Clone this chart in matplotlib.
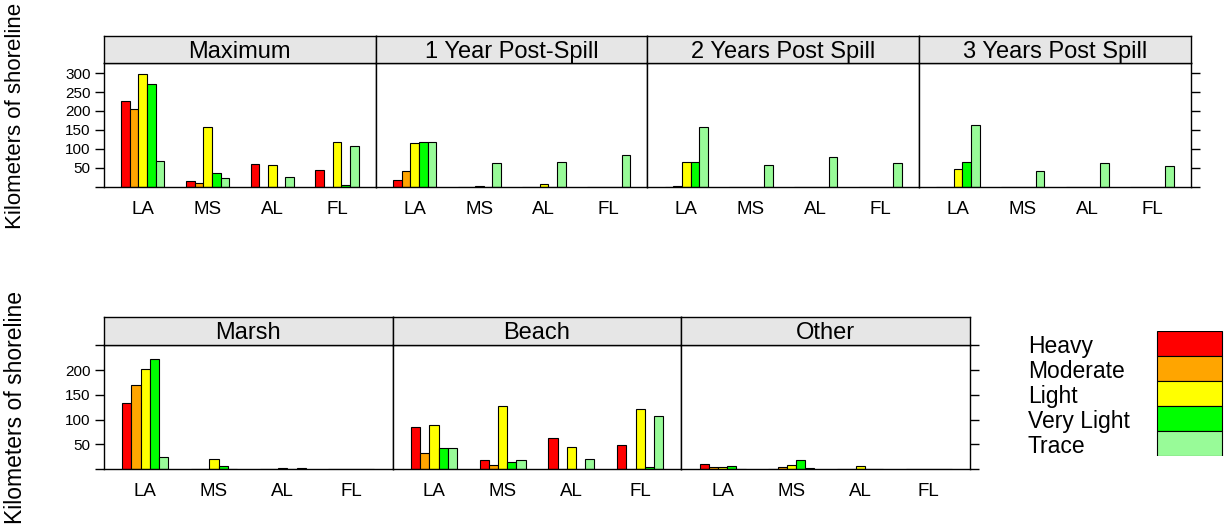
import matplotlib.pyplot as plt
import numpy as np

plt.rcParams['font.family'] = ['Liberation Sans', 'DejaVu Sans']

levels = ["Heavy", "Moderate", "Light", "Very Light", "Trace"]
colors = ["#FF0000", "#FFA500", "#FFFF00", "#00FF00", "#98FB98"]
states = ["LA", "MS", "AL", "FL"]

# km of shoreline per state (rows) and oiling level (columns)
maximum = [[227, 204, 298, 271, 69], [14, 11, 158, 37, 22], [61, 0.5, 57, 0.5, 26], [45, 0.5, 119, 3.5, 108]]
year1 = [[19, 42, 116, 119, 119], [0.5, 0.5, 3, 0.5, 62], [0.5, 0.5, 7, 0.5, 65], [0.5, 0.5, 0.5, 0.5, 85]]
year2 = [[0.5, 1.5, 66, 65, 159], [0.5, 0.5, 0.5, 0.5, 58], [0.5, 0.5, 0.5, 0.5, 78], [0.5, 0.5, 0.5, 0.5, 62]]
year3 = [[0.5, 0.5, 46, 65, 162], [0.5, 0.5, 0.5, 0.5, 42], [0.5, 0.5, 0.5, 0.5, 62], [0.5, 0.5, 0.5, 0.5, 54]]
marsh = [[134, 170, 202, 223, 24], [0.5, 0.5, 20, 7, 0.5], [0.5, 0.5, 2, 0.5, 2], [0.5, 0.5, 0.5, 0.5, 0.5]]
beach = [[86, 32, 89, 42, 42], [18, 9, 128, 14, 18], [63, 0, 45, 0, 21], [48, 0, 122, 4, 107]]
other = [[9.5, 4.5, 3.5, 6, 1], [0.5, 3.5, 9, 17.5, 3], [0.5, 0.5, 6, 0.5, 0.5], [0.5, 0.5, 0.5, 0.5, 0.5]]

top_panels = [("Maximum", maximum), ("1 Year Post-Spill", year1),
              ("2 Years Post Spill", year2), ("3 Years Post Spill", year3)]
bottom_panels = [("Marsh", marsh), ("Beach", beach), ("Other", other)]

W, H = 1225, 529
fig = plt.figure(figsize=(W / 100, H / 100), dpi=100)


def box(x0, y0, x1, y1):
    # pixel box (top-left origin) -> figure fraction
    return [x0 / W, 1 - y1 / H, (x1 - x0) / W, (y1 - y0) / H]


def draw_row(panels, x0, pw, strip_top, strip_bot, base, ymax, yticks, ylabels):
    n = len(panels)
    for i, (title, data) in enumerate(panels):
        xl = x0 + i * pw
        ax = fig.add_axes(box(xl, strip_bot, xl + pw, base))
        data = np.array(data)
        bw = 0.134
        for j in range(len(levels)):
            xs = np.arange(1, 5) + (j - 2) * bw
            ax.bar(xs, data[:, j], width=bw, color=colors[j],
                   edgecolor="black", linewidth=0.8)
        ax.set_xlim(0.4, 4.6)
        ax.set_ylim(0, ymax)
        ax.set_xticks(range(1, 5))
        ax.set_xticklabels(states, fontsize=13.5)
        ax.tick_params(axis="x", length=0, pad=10)
        for s in ax.spines.values():
            s.set_linewidth(1.0)
        if i == 0:
            ax.set_yticks(yticks)
            ax.set_yticklabels(ylabels, fontsize=11)
            ax.tick_params(axis="y", direction="out", length=6.5, width=1.0, pad=3)
        elif i == n - 1:
            ax.yaxis.tick_right()
            ax.set_yticks(yticks)
            ax.set_yticklabels([])
            ax.tick_params(axis="y", direction="out", length=6.5, width=1.0)
        else:
            ax.set_yticks([])

        st = fig.add_axes(box(xl, strip_top, xl + pw, strip_bot))
        st.set_facecolor("#E6E6E6")
        st.set_xticks([])
        st.set_yticks([])
        for s in st.spines.values():
            s.set_linewidth(1.0)
        st.text(0.5, 0.42, title, ha="center", va="center", fontsize=17,
                transform=st.transAxes)


draw_row(top_panels, 104, 271.7, 35.7, 63.3, 186.7, 326,
         [0, 50, 100, 150, 200, 250, 300], ["", "50", "100", "150", "200", "250", "300"])
draw_row(bottom_panels, 104, 288.7, 317.3, 345, 469, 251,
         [0, 50, 100, 150, 200, 250], ["", "50", "100", "150", "200", ""])

fig.text(16 / W, 1 - 116 / H, "Kilometers of shoreline", rotation=90,
         ha="center", va="center", fontsize=16)
fig.text(16 / W, 1 - 408 / H, "Kilometers of shoreline", rotation=90,
         ha="center", va="center", fontsize=16.5)

# legend
lg = fig.add_axes(box(1000, 331, 1225, 455.5))
lg.set_xlim(0, 225)
lg.set_ylim(len(levels), 0)
lg.barh(np.arange(len(levels)) + 0.5, 65, left=157, height=1.0,
        color=colors, edgecolor="black", linewidth=0.8)
for k, name in enumerate(levels):
    lg.text(28, k + 0.62, name, ha="left", va="center", fontsize=16.5)
lg.axis("off")

fig.savefig("out.png", dpi=100)
